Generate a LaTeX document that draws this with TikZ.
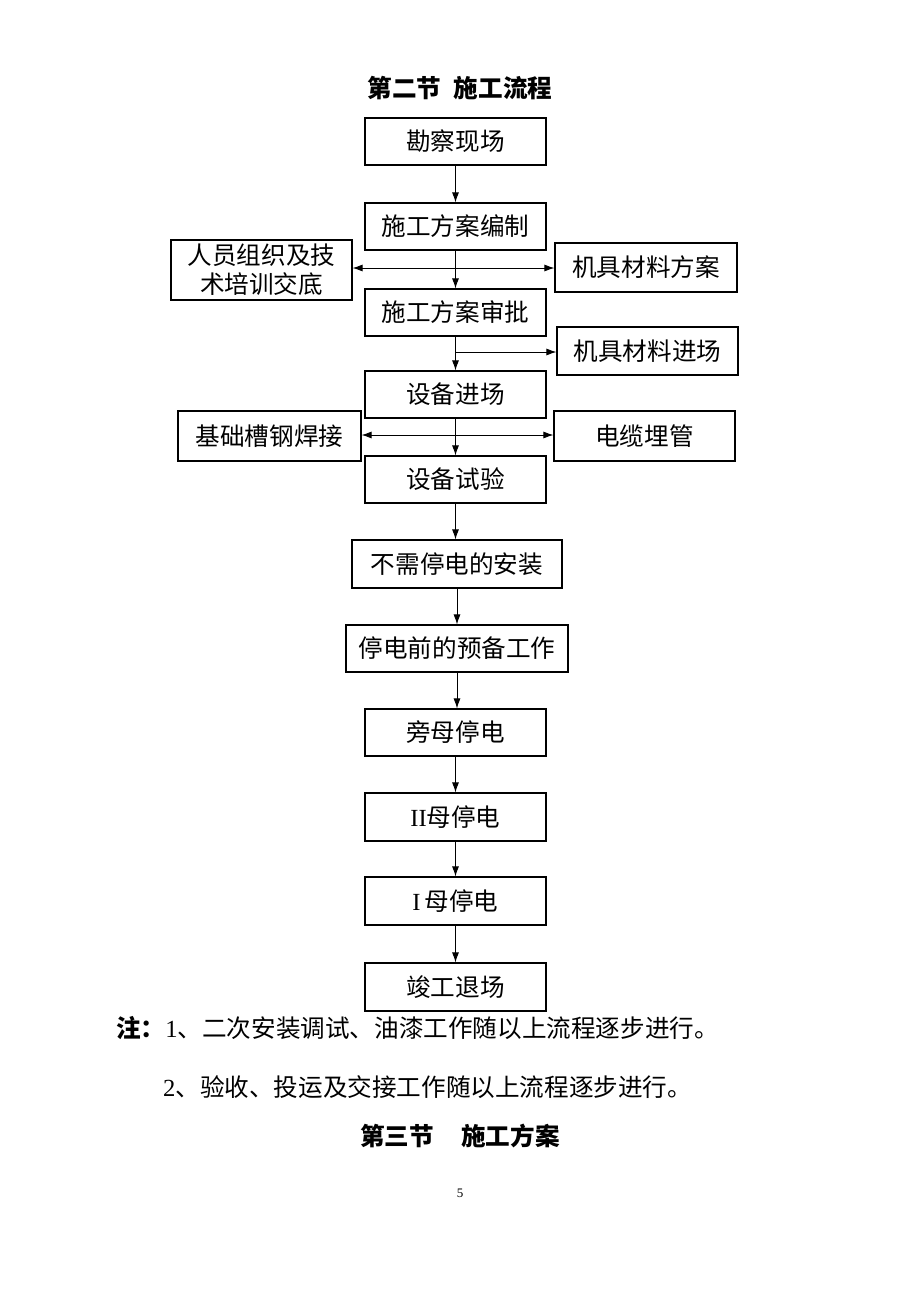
\documentclass[tikz,border=0pt]{standalone}
\usepackage{fontspec}
\setmainfont{Noto Sans CJK SC}
\newfontfamily\lat{Liberation Serif}
\usetikzlibrary{arrows.meta}
\begin{document}
\begin{tikzpicture}[x=1pt,y=-1pt,
  box/.style={draw=black,line width=1.1pt,rectangle,inner sep=0pt,minimum width=181pt,minimum height=47pt,font=\fontsize{24.6}{29}\selectfont,align=center},
  arr/.style={line width=0.9pt,-{Latex[length=10pt,width=7pt]}},
  barr/.style={line width=0.9pt,{Latex[length=10pt,width=7pt]}-{Latex[length=10pt,width=7pt]}},
  txt/.style={inner sep=0pt,font=\fontsize{24.6}{29}\selectfont},
  ttl/.style={inner sep=0pt,font=\fontsize{24.6}{29}\selectfont\bfseries}]
\useasboundingbox[fill=white] (0,0) rectangle (920,1302);

\node[ttl] (t1) at (460,88) {第二节\hspace{0.5em}施工流程};

\node[box] (b1) at (455.5,141.5) {勘察现场};
\node[box] (b2) at (455.5,226.5) {施工方案编制};
\node[box,minimum width=181pt,minimum height=60pt,font=\fontsize{24.6}{29}\selectfont] (l1) at (261.5,270) {人员组织及技\\术培训交底};
\node[box,minimum width=182pt,minimum height=49pt] (r1) at (646,267.5) {机具材料方案};
\node[box] (b3) at (455.5,312.5) {施工方案审批};
\node[box,minimum height=48pt] (r2) at (647.5,351) {机具材料进场};
\node[box] (b4) at (455.5,394.5) {设备进场};
\node[box,minimum width=183pt,minimum height=50pt] (l2) at (269.5,436) {基础槽钢焊接};
\node[box,minimum height=50pt] (r3) at (644.5,436) {电缆埋管};
\node[box] (b5) at (455.5,479.5) {设备试验};
\node[box,minimum width=210pt,minimum height=48pt] (b6) at (457,564) {不需停电的安装};
\node[box,minimum width=222pt] (b7) at (457,648.5) {停电前的预备工作};
\node[box] (b8) at (455.5,732.5) {旁母停电};
\node[box,minimum height=48pt] (b9) at (455.5,817) {{\lat II}母停电};
\node[box,minimum height=48pt] (b10) at (455.5,901) {{\lat I\,}母停电};
\node[box,minimum height=48pt] (b11) at (455.5,987) {竣工退场};

\coordinate (c1) at (456,268);
\coordinate (c2) at (456,352);
\coordinate (c3) at (456,435);

\draw[arr] (b1) -- (b2);
\draw[arr] (b2) -- (b3);
\draw[barr] (l1.east |- c1) -- (r1.west |- c1);
\draw[arr] (b3) -- (b4);
\draw[arr] (c2) -- (r2.west |- c2);
\draw[arr] (b4) -- (b5);
\draw[barr] (l2.east |- c3) -- (r3.west |- c3);
\draw[arr] (b5.south) -- (b5.south |- b6.north);
\draw[arr] (b6.south) -- (b6.south |- b7.north);
\draw[arr] (b7.south) -- (b7.south |- b8.north);
\draw[arr] (b8) -- (b9);
\draw[arr] (b9) -- (b10);
\draw[arr] (b10) -- (b11);

\node[txt,anchor=west] (n1) at (116,1028) {\textbf{注：}{\lat 1}、二次安装调试、油漆工作随以上流程逐步进行。};
\node[txt,anchor=west] (n2) at (163,1087) {{\lat 2}、验收、投运及交接工作随以上流程逐步进行。};
\node[ttl] (t2) at (460,1136) {第三节\hspace{1.1em}施工方案};
\node[inner sep=0pt,font=\lat\fontsize{13}{15}\selectfont] (pg) at (460,1193) {5};
\end{tikzpicture}
\end{document}
